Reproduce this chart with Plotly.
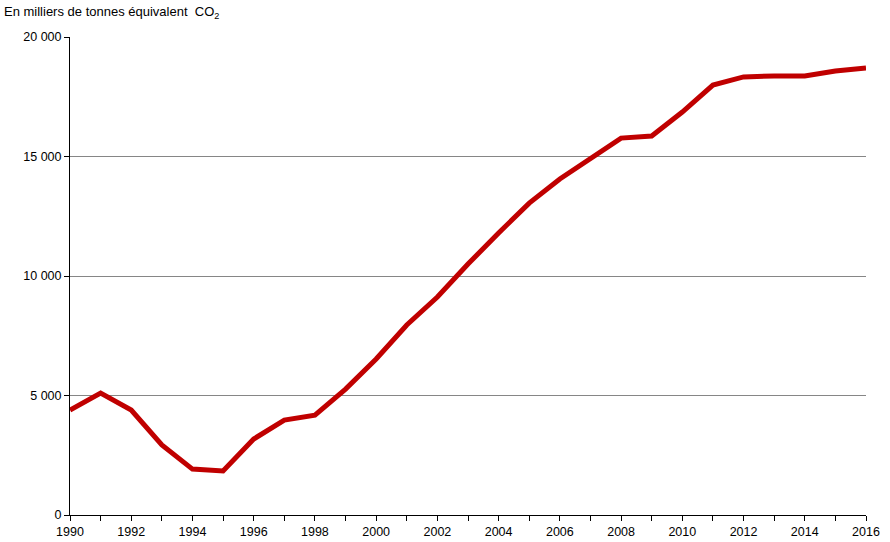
import plotly.graph_objects as go

years = list(range(1990, 2017))
values = [4390, 5100, 4390, 2930, 1920, 1840, 3180, 3970, 4180, 5270,
          6530, 7950, 9120, 10500, 11800, 13050, 14060, 14900, 15770, 15860,
          16860, 17990, 18330, 18370, 18370, 18580, 18700]
y_ticks = [0, 5000, 10000, 15000, 20000]
y_labels = ["0", "5 000", "10 000", "15 000", "20 000"]

fig = go.Figure()
fig.add_trace(go.Scatter(x=years, y=values, mode="lines",
                         line=dict(color="#C00000", width=5), hoverinfo="x+y"))

fig.update_layout(
    width=890, height=542, autosize=False,
    margin=dict(l=70, r=24, t=37, b=27, pad=0, autoexpand=False),
    paper_bgcolor="white", plot_bgcolor="white",
    font=dict(family="Liberation Sans, Arial, sans-serif", size=12, color="black"),
    showlegend=False,
    xaxis=dict(range=[1990, 2016], tick0=1990, dtick=2, automargin=False,
               ticks="outside", ticklen=5, tickcolor="black", showgrid=False,
               minor=dict(tick0=1990, dtick=1, ticks="outside", ticklen=5,
                          tickcolor="black", showgrid=False),
               showline=True, linecolor="black", linewidth=1, zeroline=False,
               tickfont=dict(size=12.5)),
    yaxis=dict(range=[0, 20000], tickvals=y_ticks, ticktext=y_labels,
               automargin=False,
               ticks="outside", ticklen=5, tickcolor="black",
               showgrid=True, gridcolor="#868686", gridwidth=1,
               showline=True, linecolor="black", linewidth=1, zeroline=False,
               tickfont=dict(size=12.5)),
    annotations=[dict(text="En milliers de tonnes équivalent  CO<sub>2</sub>",
                      xref="paper", yref="paper", x=-68/796, y=1 + 25/478,
                      xanchor="left", yanchor="middle", showarrow=False,
                      font=dict(size=13))],
)

fig.write_html("out.html", config={"displayModeBar": False},
               post_script="document.body.style.margin='0';")
